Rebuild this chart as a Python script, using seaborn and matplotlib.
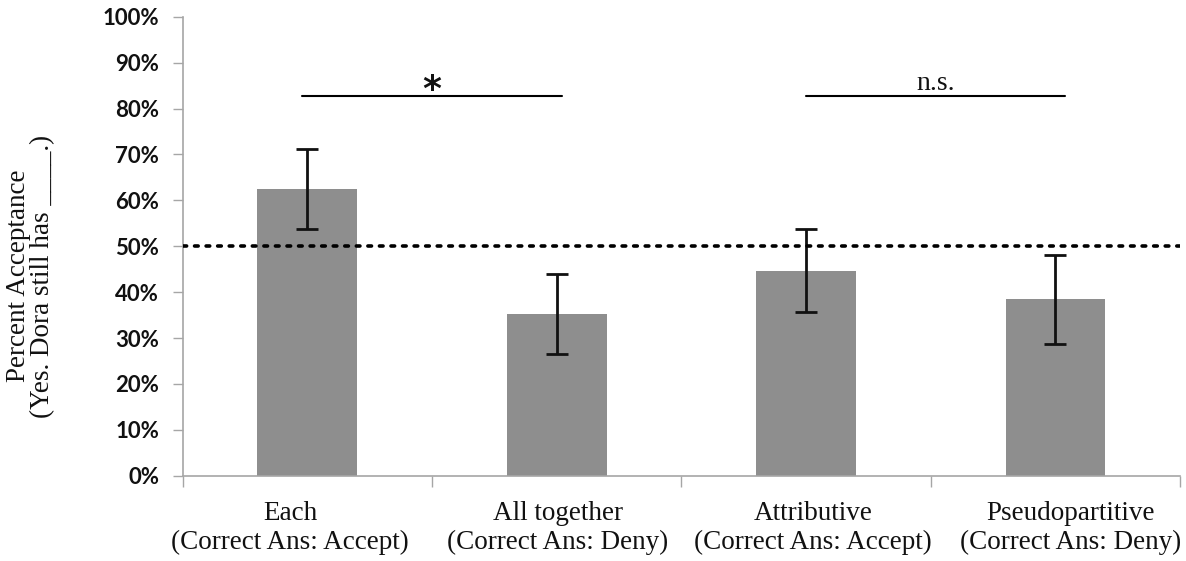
import matplotlib
matplotlib.use("Agg")
import matplotlib.pyplot as plt
import matplotlib.transforms as mtransforms
import seaborn as sns
import pandas as pd
import numpy as np

categories = ["Each\n(Correct Ans: Accept)", "All together\n(Correct Ans: Deny)",
              "Attributive\n(Correct Ans: Accept)", "Pseudopartitive\n(Correct Ans: Deny)"]
means = [62.5, 35.3, 44.7, 38.5]
errors = [8.8, 8.7, 9.0, 9.7]
yticks = [0, 10, 20, 30, 40, 50, 60, 70, 80, 90, 100]
chance = 50
sig_pairs = [(-0.02, 1.02, "*"), (2.0, 3.04, "n.s.")]
sig_level = 82.8

sns.set_theme(style="white")
plt.rcParams['font.family'] = ['Liberation Serif', 'DejaVu Serif']

fig = plt.figure(figsize=(11.86, 5.61), dpi=100)
ax = fig.add_axes([0.154, 0.152, 0.841, 0.818])

df = pd.DataFrame({"cat": categories, "val": means})
sns.barplot(data=df, x="cat", y="val", color="#8e8e8e", saturation=1, width=0.4,
            errorbar=None, ax=ax)
for p in ax.patches:
    p.set_edgecolor("none")

ax.errorbar(np.arange(len(means)), means, yerr=errors, fmt="none", ecolor="#111111",
            elinewidth=2, capsize=8, capthick=2, zorder=5)

ax.axhline(chance, color="black", linestyle=(0, (1, 2.2)), linewidth=2.6,
           dash_capstyle="round", zorder=6)

for x0, x1, lab in sig_pairs:
    ax.plot([x0, x1], [sig_level, sig_level], color="black", linewidth=1.5, clip_on=False)
    xm = (x0 + x1) / 2
    if lab == "*":
        ax.text(xm, sig_level - 0.9, lab, ha="center", va="baseline", fontsize=26,
                fontweight="bold", family=["DejaVu Sans"], color="#111111")
    else:
        ax.text(xm, sig_level + 1.2, lab, ha="center", va="baseline", fontsize=20,
                color="#111111")

ax.set_xlim(-0.5, 3.5)
ax.set_ylim(0, 100)
ax.set_yticks(yticks)
ax.set_yticklabels([f"{t}%" for t in yticks], fontsize=16, fontweight="bold",
                   family=["Lato", "DejaVu Sans"], color="#111111")
ax.tick_params(axis="y", which="major", direction="out", length=7, width=1,
               color="#a6a6a6", pad=10, left=True)
ax.set_xticks(range(len(categories)))
ax.set_xticklabels(categories, fontsize=19.5, linespacing=1.22, color="#111111")
ax.set_xticks([-0.5, 0.5, 1.5, 2.5, 3.5], minor=True)
ax.tick_params(axis="x", which="major", length=0, pad=18)
ax.tick_params(axis="x", which="minor", direction="out", length=8, width=1,
               color="#a6a6a6", bottom=True)

# small horizontal nudges of the category labels, as in the original layout
label_shift_px = [-17, 1, 7, 15]
for lab, dx in zip(ax.get_xticklabels(), label_shift_px):
    lab.set_transform(lab.get_transform() +
                      mtransforms.ScaledTranslation(dx / 100, 0, fig.dpi_scale_trans))

ax.set_xlabel("")
ax.set_ylabel("")
for s in ["top", "right"]:
    ax.spines[s].set_visible(False)
for s in ["left", "bottom"]:
    ax.spines[s].set_color("#a6a6a6")
    ax.spines[s].set_linewidth(1.2)

fig.text(0.026, 0.508, "Percent Acceptance\n(Yes. Dora still has ____.)", rotation=90,
         ha="center", va="center", fontsize=19.5, linespacing=0.95,
         multialignment="center", color="#111111")

fig.savefig("out.png", dpi=100, facecolor="white")
